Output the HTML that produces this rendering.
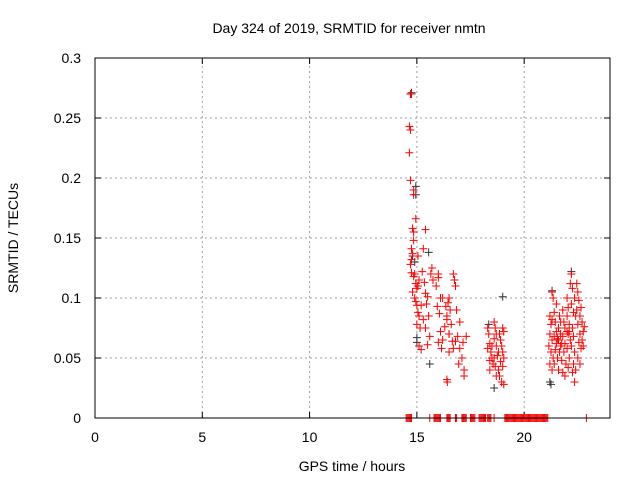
<!DOCTYPE html>
<html><head><meta charset="utf-8"><style>
body{margin:0;background:#fff;}
svg{display:block;font-family:"Liberation Sans",sans-serif;}
</style></head><body>
<svg id="chart" width="640" height="480">
<text x="349" y="33" font-size="14" text-anchor="middle">Day 324 of 2019, SRMTID for receiver nmtn</text>
<text x="352" y="471" font-size="14" text-anchor="middle">GPS time / hours</text>
<text transform="translate(18,238) rotate(-90)" font-size="14" text-anchor="middle">SRMTID / TECUs</text>
<g id="grid"></g><g id="ticks"></g><g id="marks"></g>
<rect x="95" y="58" width="515" height="360" fill="none" stroke="#000" stroke-width="1"/>
</svg>
<script>
const xTicks=[0,5,10,15,20];
const yTicks=[0,0.05,0.1,0.15,0.2,0.25,0.3];
const yTickLabels=["0","0.05","0.1","0.15","0.2","0.25","0.3"];
const redX=[14.7,14.75,14.65,14.7,14.65,14.7,14.85,14.85,14.95,14.8,14.85,14.85,14.75,14.8,14.75,14.7,14.75,14.85,14.9,14.95,15.0,14.8,14.9,15.0,15.05,15.1,15.0,15.15,15.1,15.2,14.95,15.05,15.1,
15.4,15.25,15.35,15.4,15.45,15.5,15.55,15.3,15.4,15.2,15.6,15.5,15.7,15.65,15.75,16.0,16.0,16.1,15.9,15.95,16.05,16.1,16.2,16.0,16.15,16.3,16.4,16.5,16.45,16.35,16.55,16.4,16.5,16.6,16.65,16.5,16.4,16.42,16.7,16.8,16.9,17.0,17.1,17.15,16.95,17.2,17.2,17.3,15.3,15.05,16.2,16.7,16.75,16.8,16.85,17.0,
18.3,18.35,18.4,18.45,18.5,18.3,18.4,18.55,18.6,18.65,18.7,18.6,18.7,18.75,18.6,18.65,18.8,18.7,18.85,18.9,18.95,19.0,19.05,18.9,19.0,18.85,18.95,19.05,19.0,19.05,18.5,18.8,18.4,
21.2,21.25,21.3,21.35,21.2,21.3,21.15,21.25,21.35,21.2,21.3,21.4,21.45,21.5,21.4,21.5,21.45,21.55,21.4,21.6,21.65,21.7,21.6,21.7,21.65,21.75,21.6,21.8,21.85,21.8,21.9,21.85,21.95,21.8,21.9,22.0,22.05,22.0,22.1,22.05,22.15,22.0,22.1,22.05,22.2,22.15,22.25,22.2,22.3,22.25,22.3,22.2,22.35,22.3,22.25,22.4,22.35,22.45,22.5,22.55,22.45,22.6,22.5,22.6,22.55,22.65,22.5,22.6,22.7,22.75,22.7,22.8,22.75,22.65,21.5,21.3,22.1,21.7,22.4,22.0,21.9,22.35,21.55,21.75];
const redY=[0.27,0.27,0.243,0.24,0.221,0.198,0.19,0.186,0.166,0.158,0.155,0.148,0.141,0.137,0.132,0.128,0.121,0.118,0.12,0.112,0.108,0.105,0.1,0.094,0.088,0.085,0.078,0.075,0.06,0.057,0.097,0.135,0.115,
0.157,0.122,0.113,0.104,0.095,0.101,0.085,0.082,0.075,0.094,0.068,0.061,0.125,0.12,0.115,0.12,0.117,0.1,0.11,0.093,0.087,0.072,0.065,0.063,0.058,0.076,0.085,0.1,0.096,0.093,0.09,0.082,0.07,0.078,0.064,0.055,0.032,0.03,0.058,0.064,0.068,0.058,0.05,0.063,0.045,0.04,0.035,0.068,0.141,0.11,0.1,0.12,0.115,0.11,0.09,0.08,
0.075,0.07,0.062,0.055,0.05,0.058,0.048,0.045,0.08,0.075,0.07,0.066,0.06,0.052,0.05,0.043,0.04,0.035,0.07,0.065,0.06,0.055,0.05,0.047,0.043,0.035,0.03,0.028,0.075,0.072,0.06,0.055,0.04,
0.085,0.078,0.105,0.1,0.07,0.065,0.06,0.055,0.05,0.045,0.04,0.088,0.08,0.072,0.068,0.062,0.057,0.05,0.045,0.075,0.085,0.07,0.065,0.06,0.055,0.048,0.04,0.09,0.08,0.068,0.062,0.055,0.045,0.038,0.035,0.1,0.092,0.085,0.078,0.07,0.065,0.058,0.05,0.042,0.12,0.112,0.108,0.095,0.088,0.075,0.068,0.06,0.055,0.045,0.038,0.04,0.03,0.112,0.105,0.098,0.09,0.085,0.078,0.07,0.063,0.058,0.05,0.045,0.08,0.072,0.065,0.076,0.06,0.092,0.095,0.082,0.072,0.08,0.085,0.072,0.075,0.1,0.066,0.062];
const blackX=[14.7,14.75,14.95,14.95,14.8,14.9,15.55,15.6,15.0,15.0,19.0,18.6,22.2,21.3,21.25,21.2,18.35,16.5];
const blackY=[0.27,0.271,0.193,0.186,0.135,0.13,0.138,0.045,0.067,0.063,0.101,0.025,0.122,0.106,0.028,0.03,0.078,0.07];
const zeroX=[14.5,14.55,14.6,14.65,14.7,14.75,15.6,15.8,15.85,15.9,15.95,16.0,16.05,16.1,16.4,16.45,16.5,16.55,16.8,16.85,17.1,17.15,17.2,17.25,17.3,17.5,17.55,17.6,17.65,17.7,17.9,17.95,18.0,18.05,18.1,18.15,18.2,18.3,18.35,18.4,18.45,18.6,19.1,19.15,19.2,19.25,19.3,19.35,19.4,19.45,19.5,19.55,19.6,19.65,19.7,19.75,19.8,19.85,19.9,19.95,20.0,20.05,20.1,20.15,20.2,20.25,20.3,20.35,20.4,20.45,20.5,20.55,20.6,20.65,20.7,20.75,20.8,20.85,20.9,20.95,21.0,21.05,21.1,22.9];
const zeroY=zeroX.map(()=>0);
const NS="http://www.w3.org/2000/svg";
const X0=95,X1=610,Y0=418,Y1=58,XMAX=24,YMAX=0.3;
function sx(v){return X0+(X1-X0)*v/XMAX;}
function sy(v){return Y0-(Y0-Y1)*v/YMAX;}
function mk(tag,attrs,parent){const e=document.createElementNS(NS,tag);for(const k in attrs)e.setAttribute(k,attrs[k]);parent.appendChild(e);return e;}
const grid=document.getElementById('grid'),ticks=document.getElementById('ticks'),marks=document.getElementById('marks');
xTicks.forEach(t=>{const x=sx(t);
 if(t>0){const g=mk('line',{x1:x,x2:x,y1:Y0,y2:Y1,stroke:'#a0a0a0','stroke-dasharray':'2,3'},grid);
 
 }
 mk('line',{x1:x,x2:x,y1:Y0,y2:Y0-6,stroke:'#000'},ticks);mk('line',{x1:x,x2:x,y1:Y1,y2:Y1+6,stroke:'#000'},ticks);
 const l=mk('text',{x:x,y:Y0+24,'font-size':14,'text-anchor':'middle'},ticks);l.textContent=t;
 
 });
yTicks.forEach((t,i)=>{const y=sy(t);
 if(t>0&&t<YMAX){const g=mk('line',{x1:X0,x2:X1,y1:y,y2:y,stroke:'#a0a0a0','stroke-dasharray':'2,3'},grid);
 
 }
 mk('line',{x1:X0,x2:X0+6,y1:y,y2:y,stroke:'#000'},ticks);mk('line',{x1:X1,x2:X1-6,y1:y,y2:y,stroke:'#000'},ticks);
 const l=mk('text',{x:X0-14,y:y+5,'font-size':14,'text-anchor':'end'},ticks);l.textContent=yTickLabels[i];
 
 });
function plus(xs,ys,color,name){xs.forEach((xv,i)=>{const x=sx(xv),y=sy(ys[i]);
 const p=mk('path',{d:`M${x-4},${y}h8M${x},${y-4}v8`,stroke:color,'stroke-width':1,fill:'none'},marks);
 
 });}
plus(blackX,blackY,'#333','black-point');
plus(redX,redY,'#f00','red-point');
plus(zeroX,zeroY,'#f00','zero-point');
</script>
</body></html>
